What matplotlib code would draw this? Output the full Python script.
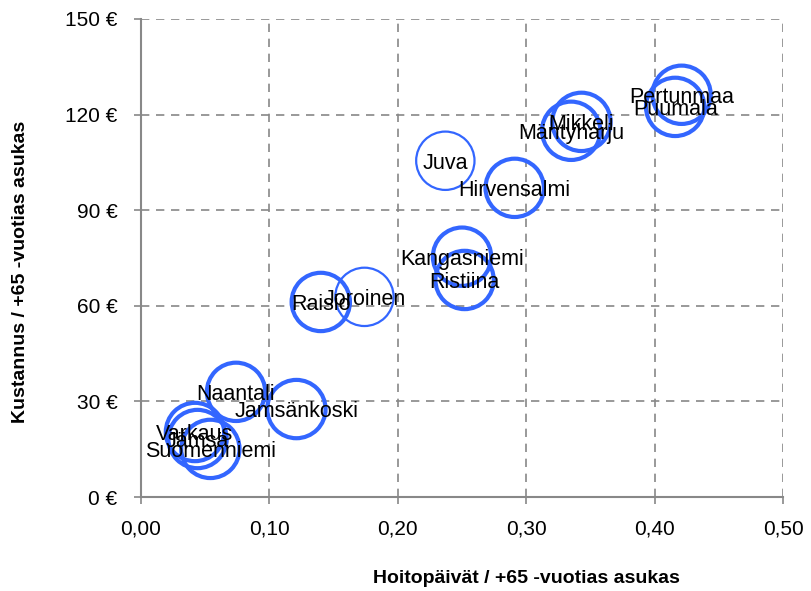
import matplotlib.pyplot as plt
from matplotlib.ticker import FuncFormatter

plt.rcParams['font.family'] = ['Liberation Sans', 'DejaVu Sans']

# Kunnat: hoitopäivät ja kustannus per +65-vuotias asukas
kunnat = ['Pertunmaa', 'Puumala', 'Mikkeli', 'Mäntyharju', 'Hirvensalmi', 'Juva',
          'Kangasniemi', 'Ristiina', 'Raisio', 'Joroinen', 'Naantali', 'Jamsänkoski',
          'Varkaus', 'Jämsä', 'Suomenniemi']
hoitopaivat = [0.421, 0.416, 0.343, 0.335, 0.291, 0.237,
               0.250, 0.252, 0.140, 0.174, 0.074, 0.121,
               0.042, 0.044, 0.054]
kustannus = [126.2, 122.4, 117.7, 114.9, 97.0, 105.5,
             75.4, 68.1, 61.2, 62.8, 33.0, 27.6,
             20.4, 18.2, 15.1]
ohut = ['Juva', 'Joroinen']  # thinner circle outline

blue = '#3366ff'

fig = plt.figure(figsize=(8.11, 5.91), dpi=100)
ax = fig.add_axes([0.1739, 0.159, 0.7916, 0.809])

for name, x, y in zip(kunnat, hoitopaivat, kustannus):
    lw = 1.6 if name in ohut else 3.0
    ax.scatter([x], [y], s=42 ** 2, facecolors='none', edgecolors=blue,
               linewidths=lw, zorder=3, clip_on=False)

for name, x, y in zip(kunnat, hoitopaivat, kustannus):
    ax.text(x, y, name, ha='center', va='center_baseline', fontsize=15.5,
            color='black', zorder=5)

ax.set_xlim(0, 0.5)
ax.set_ylim(0, 150)
ax.set_xticks([0, 0.1, 0.2, 0.3, 0.4, 0.5])
ax.set_yticks([0, 30, 60, 90, 120, 150])
ax.xaxis.set_major_formatter(FuncFormatter(lambda v, p: f'{v:.2f}'.replace('.', ',')))
ax.yaxis.set_major_formatter(FuncFormatter(lambda v, p: f'{v:.0f} €'))

ax.grid(True, color='#888888', linestyle=(0, (5, 4)), linewidth=1.2)
ax.set_axisbelow(True)
for s in ['top', 'right']:
    ax.spines[s].set_visible(False)
for s in ['left', 'bottom']:
    ax.spines[s].set_color('#888888')
    ax.spines[s].set_linewidth(1.5)
ax.tick_params(axis='both', colors='#888888', labelcolor='black',
               labelsize=15, direction='out', length=5, width=1.2)
ax.tick_params(axis='x', pad=11)
ax.tick_params(axis='y', pad=12)

ax.set_xlabel('Hoitopäivät / +65 -vuotias asukas', fontsize=14,
              fontweight='bold', va='center')
ax.set_ylabel('Kustannus / +65 -vuotias asukas', fontsize=14,
              fontweight='bold', va='center')
ax.xaxis.set_label_coords(0.601, -0.1695)
ax.yaxis.set_label_coords(-0.188, 0.47)

fig.savefig('out.png', dpi=100)
